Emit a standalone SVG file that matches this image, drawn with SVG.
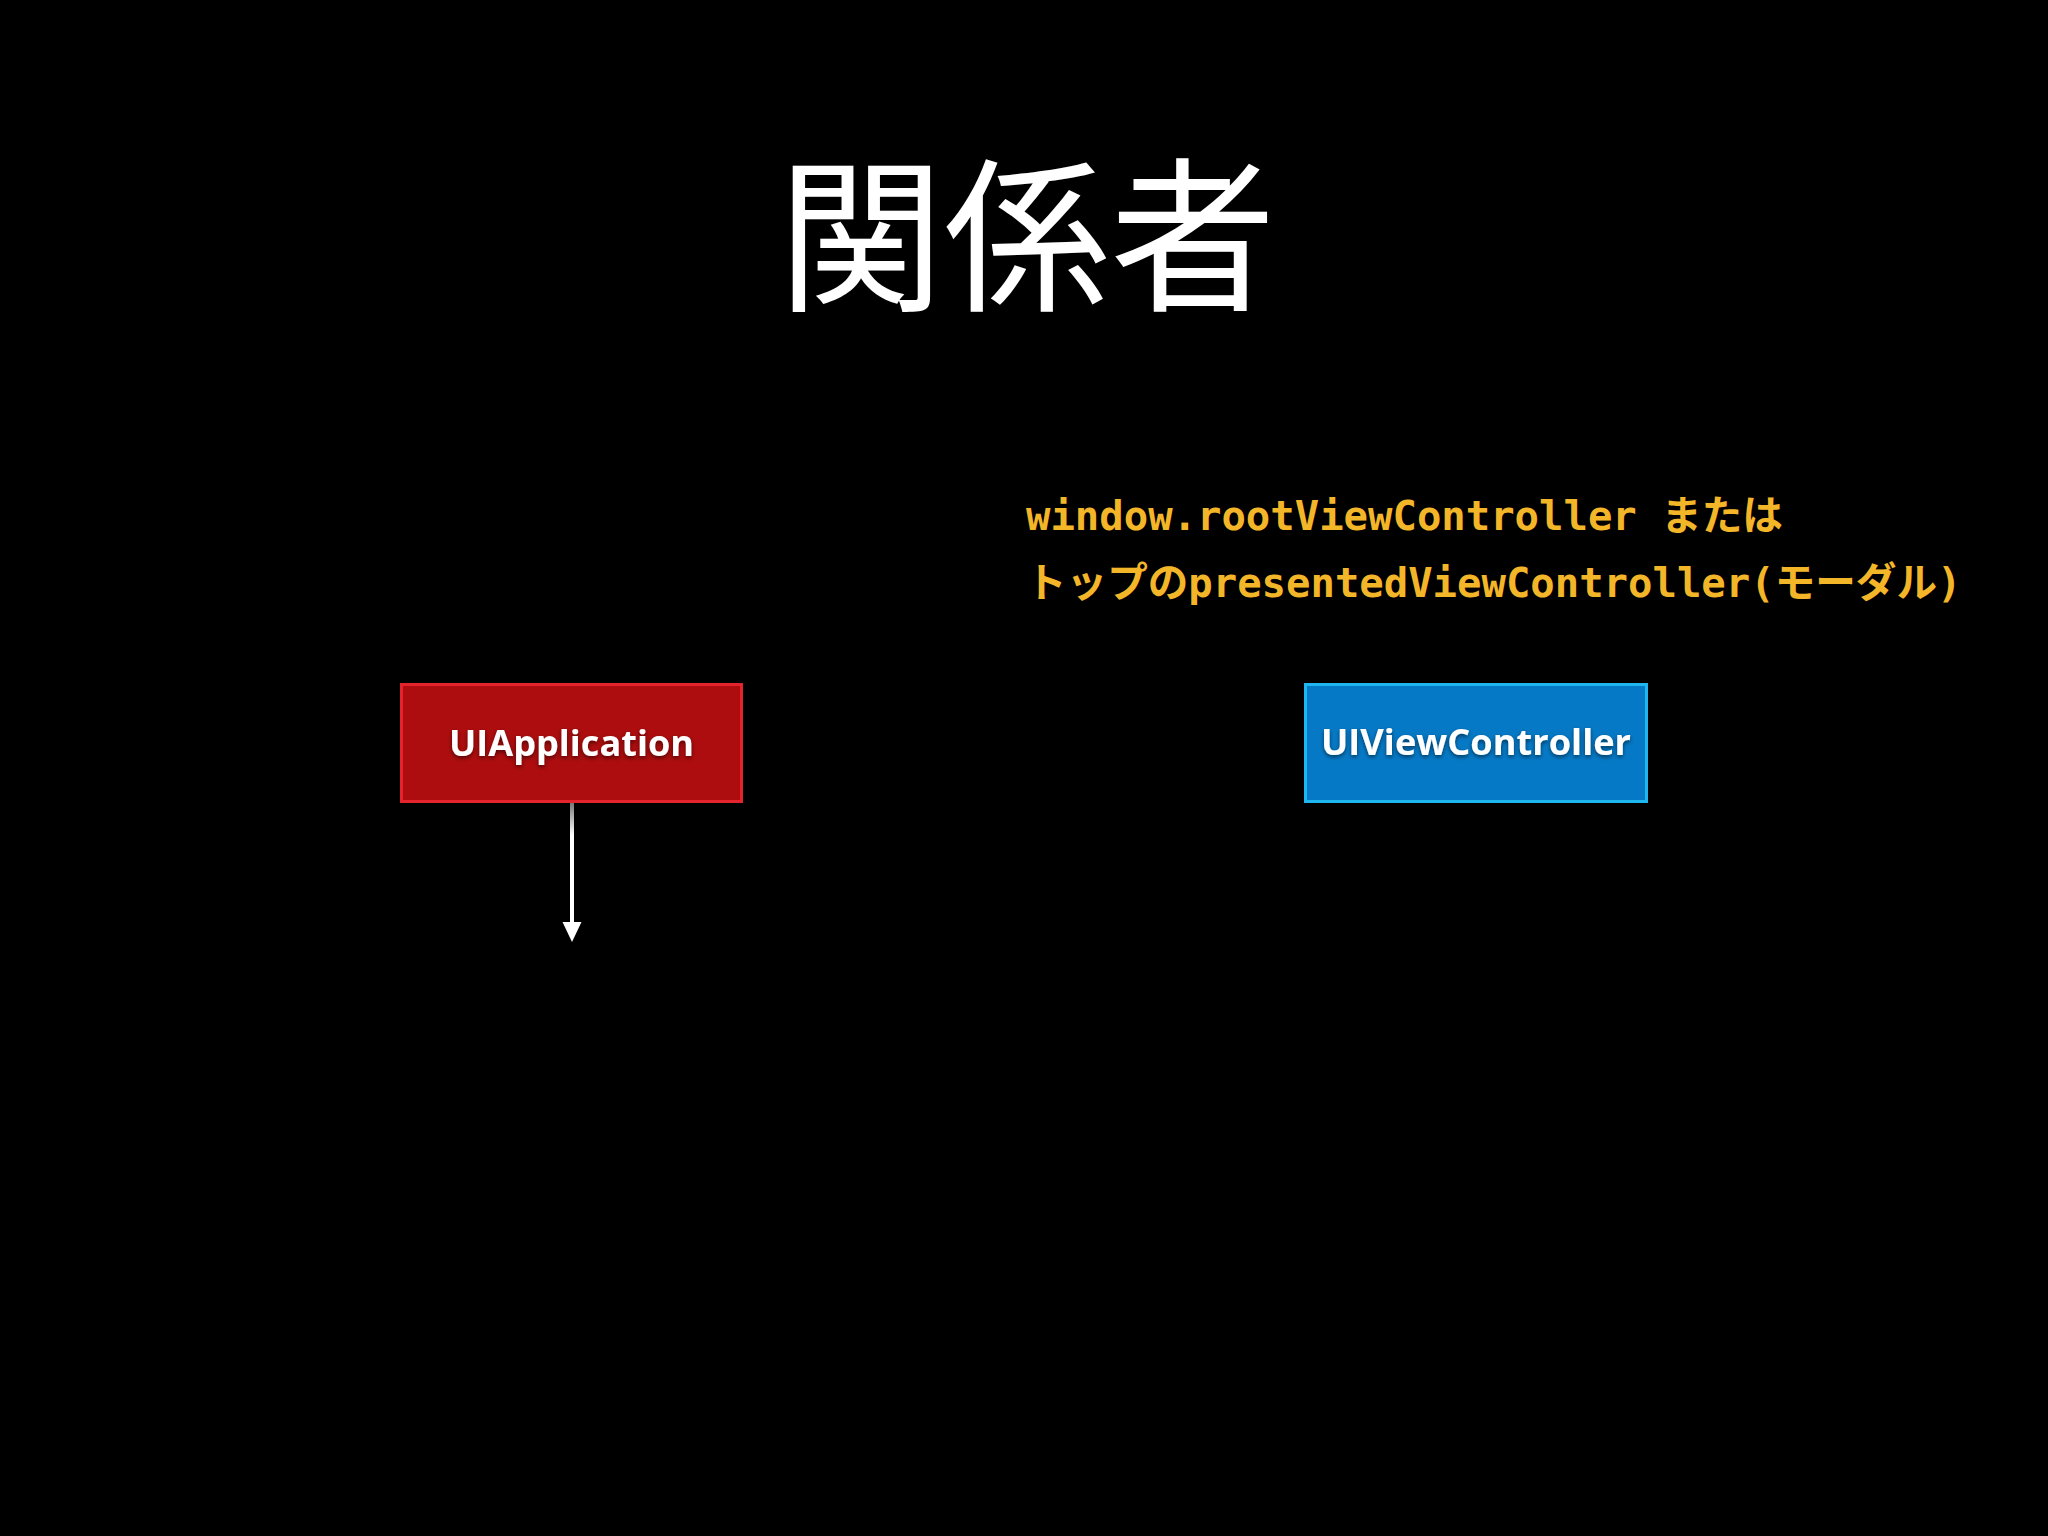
<svg xmlns="http://www.w3.org/2000/svg" width="2048" height="1536" viewBox="0 0 2048 1536">
  <style>
    .title { font-family: "Noto Sans CJK JP", "Noto Sans", sans-serif; font-size: 166px; fill: #ffffff; }
    .note { font-family: "DejaVu Sans Mono", "Noto Sans CJK JP", monospace; font-size: 40.6px; font-weight: bold; fill: #F4B629; }
    .note .cjk { font-family: "Noto Sans CJK JP", sans-serif; font-weight: bold; }
    .label { font-family: "Open Sans", "DejaVu Sans", sans-serif; font-size: 36px; font-weight: bold; fill: #ffffff; text-anchor: middle; filter: url(#shadow); }
    .conn { stroke: url(#fade); stroke-width: 4; fill: none; }
  </style>
  <defs>
    <filter id="shadow" x="-10%" y="-30%" width="120%" height="160%">
      <feDropShadow dx="0" dy="2" stdDeviation="2" flood-color="#000000" flood-opacity="0.55"/>
    </filter>
    <linearGradient id="fade" gradientUnits="userSpaceOnUse" x1="0" y1="803" x2="0" y2="835">
      <stop offset="0" stop-color="#777777"/>
      <stop offset="1" stop-color="#ffffff"/>
    </linearGradient>
  </defs>
  <rect x="0" y="0" width="2048" height="1536" fill="#000000"/>

  <text id="title" class="title" x="1027" y="298" text-anchor="middle">関係者</text>

  <g id="note">
    <text class="note" x="1026" y="530">window.rootViewController <tspan class="cjk">または</tspan></text>
    <text class="note" x="1026" y="597"><tspan class="cjk">トップの</tspan>presentedViewController(<tspan class="cjk">モーダル</tspan>)</text>
  </g>

  <g id="connectors">
    <line class="conn" x1="572" y1="803" x2="572" y2="922"/>
    <path d="M562.5,922 L581.5,922 L572,942 Z" fill="#ffffff"/>
  </g>

  <g id="uiapplication">
    <rect x="401.5" y="684.5" width="340" height="117" fill="#AD0D0E" stroke="#E5232D" stroke-width="3"/>
    <text class="label" x="571.5" y="756" textLength="245" lengthAdjust="spacingAndGlyphs">UIApplication</text>
  </g>

  <g id="uiviewcontroller">
    <rect x="1305.5" y="684.5" width="341" height="117" fill="#0679C6" stroke="#1FB5EE" stroke-width="3"/>
    <text class="label" x="1476" y="755" textLength="310" lengthAdjust="spacingAndGlyphs">UIViewController</text>
  </g>
</svg>
